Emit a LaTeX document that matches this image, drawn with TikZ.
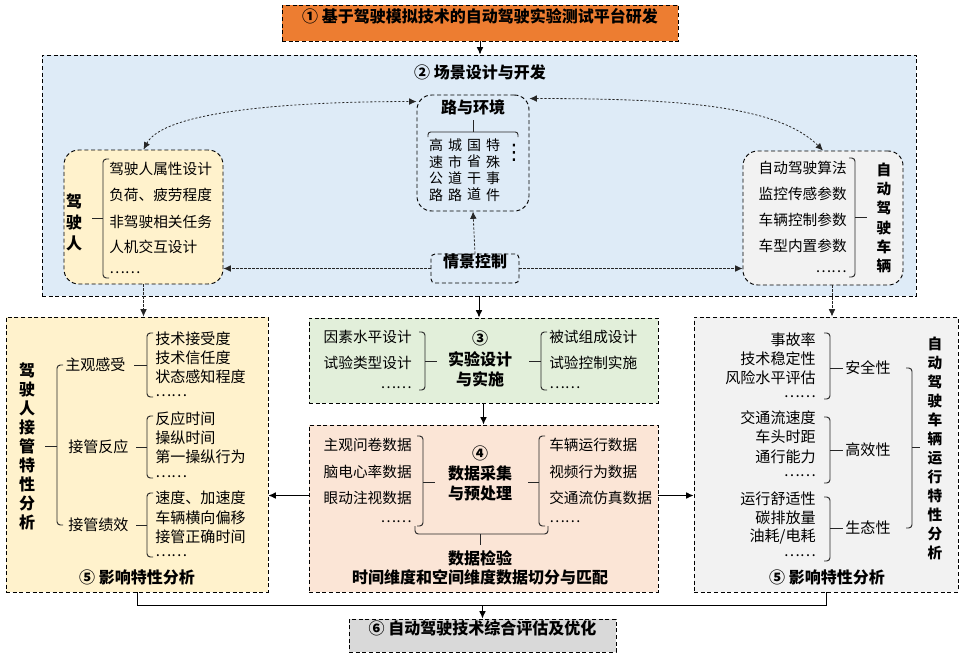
\documentclass[tikz,border=0pt]{standalone}
\usepackage{fontspec}
\setmainfont{Noto Sans CJK SC}
\newfontfamily\djv{DejaVu Sans}
\usetikzlibrary{arrows.meta,fit,calc}
\definecolor{corange}{HTML}{ED7D31}
\definecolor{cblue}{HTML}{DEEBF7}
\definecolor{cyellow}{HTML}{FFF2CC}
\definecolor{cgreen}{HTML}{E2EFDA}
\definecolor{cpeach}{HTML}{FBE5D6}
\definecolor{cgray}{HTML}{F2F2F2}
\definecolor{cgrayd}{HTML}{D9D9D9}
\tikzset{
  box/.style={draw=black, dash pattern=on 3pt off 2pt, line width=0.7pt, inner sep=0pt},
  hd/.style={font=\fontsize{12}{14}\selectfont\bfseries, inner sep=0pt},
  it/.style={font=\fontsize{11}{13}\selectfont, inner sep=0pt},
  itb/.style={font=\fontsize{11.3}{13}\selectfont, inner sep=0pt},
  vlA/.style={font=\fontsize{12}{15.75}\selectfont\bfseries, align=center, inner sep=0pt},
  vlB/.style={font=\fontsize{11}{14.5}\selectfont\bfseries, align=center, inner sep=0pt},
  vlC/.style={font=\fontsize{12}{14.25}\selectfont\bfseries, align=center, inner sep=0pt},
  vlD/.style={font=\fontsize{11}{14.25}\selectfont\bfseries, align=center, inner sep=0pt},
  col/.style={font=\fontsize{10.5}{12.4}\selectfont, align=center, inner sep=0pt},
  brk/.style={line width=0.7pt, draw=black!85},
  dl/.style={dash pattern=on 1.6pt off 1.4pt, line width=0.6pt, draw=black!85},
  sl/.style={line width=0.7pt, draw=black},
  >={Latex[length=5.5pt,width=5pt]},
}
% left bracket "[" : spine x, ytop, ybot, ytick, tick end x
\newcommand\mybrL[5]{%
  \draw[brk, rounded corners=2.5pt] ({#1+6},#2) -- (#1,#2) -- (#1,#3) -- ({#1+6},#3);
  \draw[brk] (#1,#4) -- (#5,#4);}
% right bracket "]"
\newcommand\mybrR[5]{%
  \draw[brk, rounded corners=2.5pt] ({#1-6},#2) -- (#1,#2) -- (#1,#3) -- ({#1-6},#3);
  \draw[brk] (#1,#4) -- (#5,#4);}
\begin{document}
\begin{tikzpicture}[x=0.75pt,y=-0.75pt]
\useasboundingbox (0,0) rectangle (964,657);

% ---------- box 1 ----------
\node[box, fill=corange, fit={(282,5)(678,41)}, hd] (b1) {① 基于驾驶模拟技术的自动驾驶实验测试平台研发};

% ---------- box 2 ----------
\node[box, fill=cblue, fit={(42,55)(916,296)}] (b2) {};
\node[hd] (b2t) at (480,72) {② 场景设计与开发};

\node[box, fill=cyellow, rounded corners=11pt, fit={(64,150)(223,284)}] (drv) {};
\node[box, fill=cblue, rounded corners=11pt, fit={(417,95)(529,211)}] (road) {};
\node[box, fill=cgray, rounded corners=11pt, fit={(743,151)(903,285)}] (av) {};
\node[box, fill=cblue, rounded corners=3pt, fit={(431,254)(519,283)}, hd] (ctrl) {情景控制};

% driver box content
\node[vlA] (drvL) at (74,222) {驾\\驶\\人};
\mybrL{103}{159}{278}{218}{92}
\node[it, anchor=west] (d1) at (109,169) {驾驶人属性设计};
\node[it, anchor=west] (d2) at (109,195) {负荷、疲劳程度};
\node[it, anchor=west] (d3) at (109,222) {非驾驶相关任务};
\node[it, anchor=west] (d4) at (109,247) {人机交互设计};
\node[it, anchor=west] (d5) at (109,273) {……};

% road box content
\node[hd] (roadT) at (473,107) {路与环境};
\draw[brk, rounded corners=2pt] (428,137) -- (428,132) -- (518,132) -- (518,137);
\draw[brk] (473,132) -- (473,120);
\node[col] (r1) at (436,170) {高\\速\\公\\路};
\node[col] (r2) at (455,170) {城\\市\\道\\路};
\node[col] (r3) at (474,170) {国\\省\\干\\道};
\node[col] (r4) at (493,170) {特\\殊\\事\\件};
\node[inner sep=0pt, font=\djv\fontsize{16}{16}\selectfont] (r5) at (514,153) {⋮};

% AV box content
\node[it, anchor=east] (a1) at (847,168) {自动驾驶算法};
\node[it, anchor=east] (a2) at (847,194) {监控传感参数};
\node[it, anchor=east] (a3) at (847,220) {车辆控制参数};
\node[it, anchor=east] (a4) at (847,246) {车型内置参数};
\node[it, anchor=east] (a5) at (847,272) {……};
\mybrR{855}{158}{277}{217}{867}
\node[vlB] (avL) at (884,218) {自\\动\\驾\\驶\\车\\辆};

% scene connectors
\draw[dl, <->] (drv.north) .. controls ($(drv.north)+(20,-38)$) and ($(road.north west)+(-130,7)$) .. ($(road.north west)+(0,7)$);
\draw[dl, <->] ($(road.north east)+(0,4)$) .. controls ($(road.north east)+(150,4)$) and ($(av.north)+(-45,-45)$) .. (av.north);
\draw[dl, ->] (ctrl.north) -- (road.south);
\draw[dl, ->] (ctrl.west) -- (ctrl.west -| drv.east);
\draw[dl, ->] (ctrl.east) -- (ctrl.east -| av.west);

% ---------- lower boxes ----------
\node[box, fill=cyellow, fit={(6,317)(268,592)}] (lbox) {};
\node[box, fill=cgray, fit={(694,317)(958,592)}] (rbox) {};
\node[box, fill=cgreen, fit={(309,318)(658,403)}] (b3) {};
\node[box, fill=cpeach, fit={(309,425)(658,592)}] (b4) {};
\node[box, fill=cgrayd, fit={(349,619)(616,652)}, hd] (b6) {⑥ 自动驾驶技术综合评估及优化};

% left box content
\node[vlC] (lL) at (27,446) {驾\\驶\\人\\接\\管\\特\\性\\分\\析};
\mybrL{57}{365}{525}{446}{45}
\node[itb, anchor=west] (l1) at (65,365) {主观感受};
\node[itb, anchor=west] (l2) at (68,447) {接管反应};
\node[itb, anchor=west] (l3) at (68,525) {接管绩效};
\mybrL{147}{333}{397}{365}{134}
\mybrL{147}{416}{478}{447}{136}
\mybrL{147}{493}{557}{525}{136}
\node[itb, anchor=west] (l11) at (155,339) {技术接受度};
\node[itb, anchor=west] (l12) at (155,358) {技术信任度};
\node[itb, anchor=west] (l13) at (155,377) {状态感知程度};
\node[itb, anchor=west] (l14) at (155,396) {……};
\node[itb, anchor=west] (l21) at (155,419) {反应时间};
\node[itb, anchor=west] (l22) at (155,438) {操纵时间};
\node[itb, anchor=west] (l23) at (155,457) {第一操纵行为};
\node[itb, anchor=west] (l24) at (155,477) {……};
\node[itb, anchor=west] (l31) at (155,498) {速度、加速度};
\node[itb, anchor=west] (l32) at (155,518) {车辆横向偏移};
\node[itb, anchor=west] (l33) at (155,537) {接管正确时间};
\node[itb, anchor=west] (l34) at (155,556) {……};
\node[hd] (lT) at (137,577) {⑤ 影响特性分析};

% right box content
\node[itb, anchor=east] (q11) at (816,340) {事故率};
\node[itb, anchor=east] (q12) at (816,359) {技术稳定性};
\node[itb, anchor=east] (q13) at (816,378) {风险水平评估};
\node[itb, anchor=east] (q14) at (816,397) {……};
\node[itb, anchor=east] (q21) at (816,418) {交通流速度};
\node[itb, anchor=east] (q22) at (816,437) {车头时距};
\node[itb, anchor=east] (q23) at (816,457) {通行能力};
\node[itb, anchor=east] (q24) at (816,476) {……};
\node[itb, anchor=east] (q31) at (816,499) {运行舒适性};
\node[itb, anchor=east] (q32) at (816,518) {碳排放量};
\node[itb, anchor=east] (q33) at (816,537) {油耗/电耗};
\node[itb, anchor=east] (q34) at (816,556) {……};
\mybrR{830}{333}{399}{368}{843}
\mybrR{830}{417}{483}{450}{843}
\mybrR{830}{497}{561}{528}{843}
\node[itb] (q1) at (868,368) {安全性};
\node[itb] (q2) at (868,450) {高效性};
\node[itb] (q3) at (868,528) {生态性};
\mybrR{912}{368}{528}{447}{920}
\node[vlD] (rL) at (935,448) {自\\动\\驾\\驶\\车\\辆\\运\\行\\特\\性\\分\\析};
\node[hd] (rT) at (827,577) {⑤ 影响特性分析};

% box 3 content
\node[it, anchor=east] (e1) at (412,337) {因素水平设计};
\node[it, anchor=east] (e2) at (412,363) {试验类型设计};
\node[it, anchor=east] (e3) at (412,388) {……};
\mybrR{425}{332}{390}{361}{437}
\node[hd] (e0a) at (480,338) {③};
\node[hd] (e0b) at (480,359) {实验设计};
\node[hd] (e0c) at (480,379) {与实施};
\mybrL{541}{332}{390}{361}{529}
\node[it, anchor=west] (e4) at (549,337) {被试组成设计};
\node[it, anchor=west] (e5) at (549,363) {试验控制实施};
\node[it, anchor=west] (e6) at (549,388) {……};

% box 4 content
\node[it, anchor=east] (g1) at (412,445) {主观问卷数据};
\node[it, anchor=east] (g2) at (412,472) {脑电心率数据};
\node[it, anchor=east] (g3) at (412,498) {眼动注视数据};
\node[it, anchor=east] (g4) at (412,522) {……};
\mybrR{423}{436}{526}{482}{435}
\node[hd] (g0a) at (480,453) {④};
\node[hd] (g0b) at (480,473) {数据采集};
\node[hd] (g0c) at (480,493) {与预处理};
\mybrL{539}{436}{526}{482}{528}
\node[it, anchor=west] (g5) at (549,445) {车辆运行数据};
\node[it, anchor=west] (g6) at (549,472) {视频行为数据};
\node[it, anchor=west] (g7) at (549,498) {交通流仿真数据};
\node[it, anchor=west] (g8) at (549,522) {……};
\draw[brk, rounded corners=2.5pt] (415,526) -- (415,534) -- (548,534) -- (548,526);
\draw[brk] (480,534) -- (480,545);
\node[hd] (g9) at (480,558) {数据检验};
\node[hd] (g10) at (480,577) {时间维度和空间维度数据切分与匹配};

% ---------- main connectors ----------
\draw[sl, ->] (b1.south) -- (b1.south |- b2.north);
\draw[sl, ->] (b2.south) -- (b2.south |- b3.north);
\draw[sl, ->] (b3.south) -- (b4.north);
\draw[dl, ->] (drv.south) -- (drv.south |- lbox.north);
\coordinate (avd) at ($(av.south)+(9,0)$);
\draw[dl, ->] (avd) -- (avd |- rbox.north);
\coordinate (sL) at ($(b4.west)+(0,-13)$);
\coordinate (sR) at ($(b4.east)+(0,-13)$);
\draw[sl, ->] (sL) -- (sL -| lbox.east);
\draw[sl, ->] (sR) -- (sR -| rbox.west);
\path (lbox.south) ++(0,13) coordinate (jl);
\draw[sl] (lbox.south) -- (jl) -| (rbox.south);
\draw[sl, ->] (jl -| b6.north) -- (b6.north);
\end{tikzpicture}
\end{document}
